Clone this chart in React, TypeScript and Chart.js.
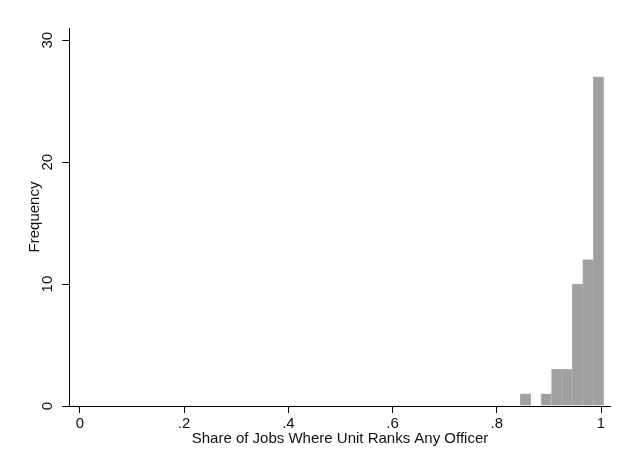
import React, { useEffect, useRef } from "react";
import { Chart, registerables } from "chart.js";

Chart.register(...registerables);

const binCenters = [0.855, 0.875, 0.895, 0.915, 0.935, 0.955, 0.975, 0.995];
const frequencies = [1, 0, 1, 3, 3, 10, 12, 27];
const xTickValues = [0, 0.2, 0.4, 0.6, 0.8, 1];
const xTickLabels = ["0", ".2", ".4", ".6", ".8", "1"];
const yTickValues = [0, 10, 20, 30];
const yTickLabels = ["0", "10", "20", "30"];
const xTitle = "Share of Jobs Where Unit Ranks Any Officer";
const yTitle = "Frequency";

const FONT = '"Liberation Sans", Arial, sans-serif';

export default function App() {
  const ref = useRef<HTMLCanvasElement | null>(null);

  useEffect(() => {
    if (!ref.current) return;
    const chart = new Chart(ref.current, {
      type: "bar",
      data: {
        datasets: [
          {
            data: binCenters.map((x, i) => ({ x, y: frequencies[i] })),
            backgroundColor: "#a0a0a0",
            borderColor: "#acacac",
            borderWidth: 1,
            barPercentage: 1,
            categoryPercentage: 1,
          },
        ],
      },
      options: {
        responsive: false,
        animation: false,
        layout: { padding: { top: 28, right: 7.3, left: 0, bottom: 0 } },
        plugins: {
          legend: { display: false },
          tooltip: { enabled: false },
        },
        scales: {
          x: {
            type: "linear",
            min: -0.0205,
            max: 1.0186,
            offset: false,
            afterFit: (s: any) => {
              s.height = 46;
            },
            afterBuildTicks: (s: any) => {
              s.ticks = xTickValues.map((v) => ({ value: v }));
            },
            ticks: {
              autoSkip: false,
              maxRotation: 0,
              minRotation: 0,
              padding: 2,
              color: "#111",
              font: { family: FONT, size: 15 },
              callback: (v: any) => {
                const i = xTickValues.findIndex((t) => Math.abs(t - Number(v)) < 1e-9);
                return i >= 0 ? xTickLabels[i] : "";
              },
            },
            grid: {
              display: true,
              offset: false,
              drawOnChartArea: false,
              drawTicks: true,
              tickLength: 7,
              color: "#000",
              lineWidth: 1,
            },
            border: { display: true, color: "#000", width: 1 },
            title: {
              display: true,
              text: xTitle,
              color: "#111",
              font: { family: FONT, size: 15 },
              padding: { top: 0, bottom: 4 },
            },
          },
          y: {
            type: "linear",
            min: 0,
            max: 31,
            afterFit: (s: any) => {
              s.width = 69.3;
            },
            afterBuildTicks: (s: any) => {
              s.ticks = yTickValues.map((v) => ({ value: v }));
            },
            ticks: {
              autoSkip: false,
              minRotation: 90,
              maxRotation: 90,
              crossAlign: "center",
              padding: 6,
              color: "#111",
              font: { family: FONT, size: 15 },
              callback: (v: any) => {
                const i = yTickValues.findIndex((t) => Math.abs(t - Number(v)) < 1e-9);
                return i >= 0 ? yTickLabels[i] : "";
              },
            },
            grid: {
              display: true,
              drawOnChartArea: false,
              drawTicks: true,
              tickLength: 7,
              color: "#000",
              lineWidth: 1,
            },
            border: { display: true, color: "#000", width: 1 },
            title: {
              display: true,
              text: yTitle,
              color: "#111",
              font: { family: FONT, size: 15 },
              padding: { top: 26, bottom: 0 },
            },
          },
        },
      },
    });
    return () => chart.destroy();
  }, []);

  return (
    <canvas
      ref={ref}
      width={618}
      height={452}
      style={{ position: "fixed", left: 0, top: 0, width: 618, height: 452, background: "#fff" }}
    />
  );
}
